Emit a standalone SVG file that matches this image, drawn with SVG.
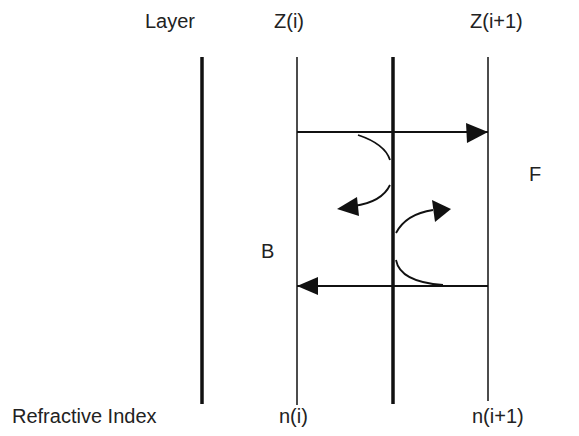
<svg xmlns="http://www.w3.org/2000/svg" width="579" height="436" viewBox="0 0 579 436">
<style>
text{font-family:"Liberation Sans",Arial,sans-serif;font-size:20px;fill:#222}
.thick{stroke:#111;stroke-width:3.5;fill:none}
.thin{stroke:#111;stroke-width:1.5;fill:none}
.ray{stroke:#111;stroke-width:1.8;fill:none}
.head{fill:#111}
</style>
<rect width="579" height="436" fill="#fff"/>
<g id="labels">
<text x="145" y="28">Layer</text>
<text x="274" y="28">Z(i)</text>
<text x="470" y="28">Z(i+1)</text>
<text x="12" y="423">Refractive Index</text>
<text x="279" y="423">n(i)</text>
<text x="472" y="423">n(i+1)</text>
<text x="529" y="181">F</text>
<text x="261" y="258">B</text>
</g>
<g id="layers">
<line id="layer0" class="thick" x1="202" y1="57" x2="202" y2="404"/>
<line id="zi" class="thin" x1="297" y1="57" x2="297" y2="405"/>
<line id="mid" class="thick" x1="393" y1="57" x2="393" y2="404"/>
<line id="zi1" class="thin" x1="488" y1="57" x2="488" y2="401"/>
</g>
<g id="connectors">
<line class="ray" x1="297" y1="132" x2="488" y2="132"/>
<path class="head" d="M466,123 L488,132 L467,143 z"/>
<line class="ray" x1="488" y1="286" x2="297" y2="286"/>
<path class="head" d="M318,277 L297,286 L318,295 z"/>
<path class="ray" d="M358,135 Q385,144 390,160"/>
<path class="ray" d="M390,185 Q382,202 354,206"/>
<path class="head" d="M357,197 L337,209 L359,216 z"/>
<path class="ray" d="M396,233 Q406,214 433,210"/>
<path class="head" d="M432,200 L451,209 L435,222 z"/>
<path class="ray" d="M396,260 Q400,282 443,285"/>
</g>
</svg>
